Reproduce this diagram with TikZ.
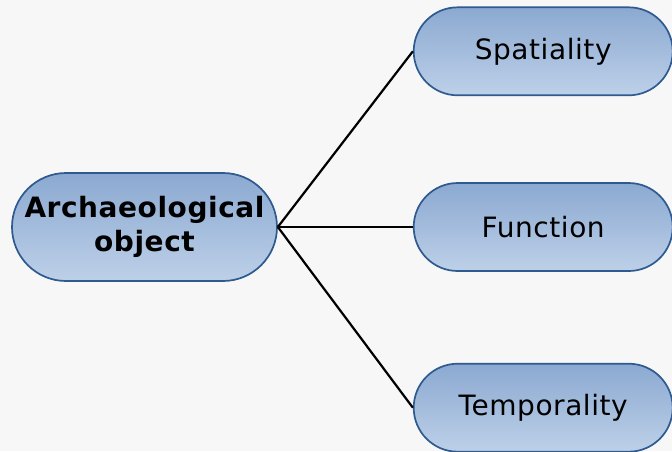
\documentclass[tikz,border=0pt]{standalone}
\usepackage{fontspec}
\setmainfont{DejaVu Sans}[LetterSpace=2]
\usepackage{xcolor}
\usetikzlibrary{positioning}
\definecolor{Bg}{HTML}{F7F7F7}
\definecolor{Edge}{HTML}{2E5A8F}
\definecolor{TopF}{HTML}{8BA9D1}
\definecolor{BotF}{HTML}{BDD0E8}

\begin{document}
\begin{tikzpicture}[x=1pt,y=-1pt,
    hub/.style={draw=Edge,top color=TopF,bottom color=BotF,line width=1.7pt,
      rounded corners=54pt,minimum width=265pt,minimum height=108pt,inner sep=0pt,
      align=center,font=\fontsize{28}{34}\selectfont\bfseries},
    leaf/.style={draw=Edge,top color=TopF,bottom color=BotF,line width=1.7pt,
      rounded corners=44pt,minimum width=259pt,minimum height=88pt,inner sep=0pt,
      font=\fontsize{28}{34}\selectfont},
    link/.style={black,line width=2.2pt}]
  \fill[Bg] (0,0) rectangle (672,451);
  \useasboundingbox (0,0) rectangle (672,451);
  \node[hub] (A) at (144.5,227) {Archaeological\\object};
  \node[leaf, right=135pt of A] (F) {Function};
  \node[leaf, above=86pt of F] (S) {Spatiality};
  \node[leaf, below=91pt of F] (T) {Temporality};
  \draw[link] (A.east) -- (S.west);
  \draw[link] (A.east) -- (F.west);
  \draw[link] (A.east) -- (T.west);
\end{tikzpicture}
\end{document}
